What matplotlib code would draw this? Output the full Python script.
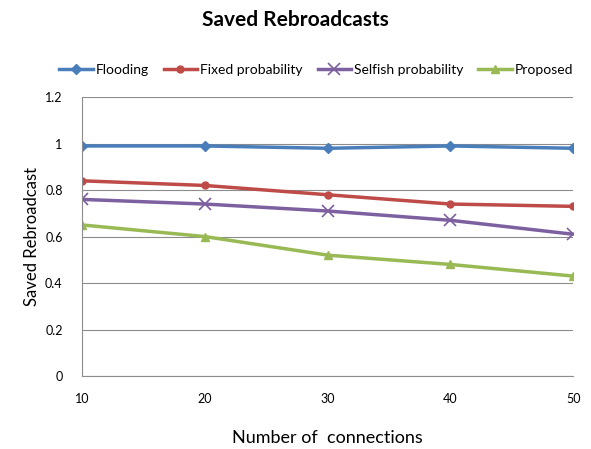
import matplotlib
matplotlib.use("Agg")
import matplotlib.pyplot as plt

plt.rcParams['font.family'] = ['Lato', 'DejaVu Sans']

connections = [10, 20, 30, 40, 50]
flooding = [0.99, 0.99, 0.98, 0.99, 0.98]
fixed_prob = [0.84, 0.82, 0.78, 0.74, 0.73]
selfish_prob = [0.76, 0.74, 0.71, 0.67, 0.61]
proposed = [0.65, 0.60, 0.52, 0.48, 0.43]

fig = plt.figure(figsize=(5.91, 4.49), dpi=100)
ax = fig.add_axes([0.139, 0.1626, 0.831, 0.621])

ax.plot(connections, flooding, color="#4A7EBB", lw=2.5, marker="D", ms=5, label="Flooding")
ax.plot(connections, fixed_prob, color="#BE4B48", lw=2.5, marker="o", ms=5, label="Fixed probability")
ax.plot(connections, selfish_prob, color="#7D60A0", lw=2.5, marker="x", ms=8, mew=1.2, label="Selfish probability")
ax.plot(connections, proposed, color="#98B954", lw=2.5, marker="^", ms=6, label="Proposed")

ax.set_xlim(10, 50)
ax.set_ylim(0, 1.2)
ax.set_xticks(connections)
ax.set_yticks([0, 0.2, 0.4, 0.6, 0.8, 1, 1.2])
ax.set_yticklabels(["0", "0.2", "0.4", "0.6", "0.8", "1", "1.2"])
ax.tick_params(length=0, labelsize=9)
ax.tick_params(axis="x", pad=12)
ax.tick_params(axis="y", pad=14)
ax.grid(axis="y", color="#8c8c8c", lw=0.8)
ax.set_axisbelow(True)
for s in ["top", "right"]:
    ax.spines[s].set_visible(False)
for s in ["left", "bottom"]:
    ax.spines[s].set_color("#8c8c8c")

ax.set_xlabel("Number of  connections", fontsize=13, labelpad=18)
ax.set_ylabel("Saved Rebroadcast", fontsize=12, labelpad=4)
fig.text(0.5, 0.955, "Saved Rebroadcasts", ha="center", va="center", fontsize=15, fontweight="bold")

fig.legend(loc="center", bbox_to_anchor=(0.535, 0.845), ncol=4, frameon=False, fontsize=10,
           handlelength=2.4, handletextpad=0.2, columnspacing=1.1)

fig.savefig("out.png", dpi=100)
